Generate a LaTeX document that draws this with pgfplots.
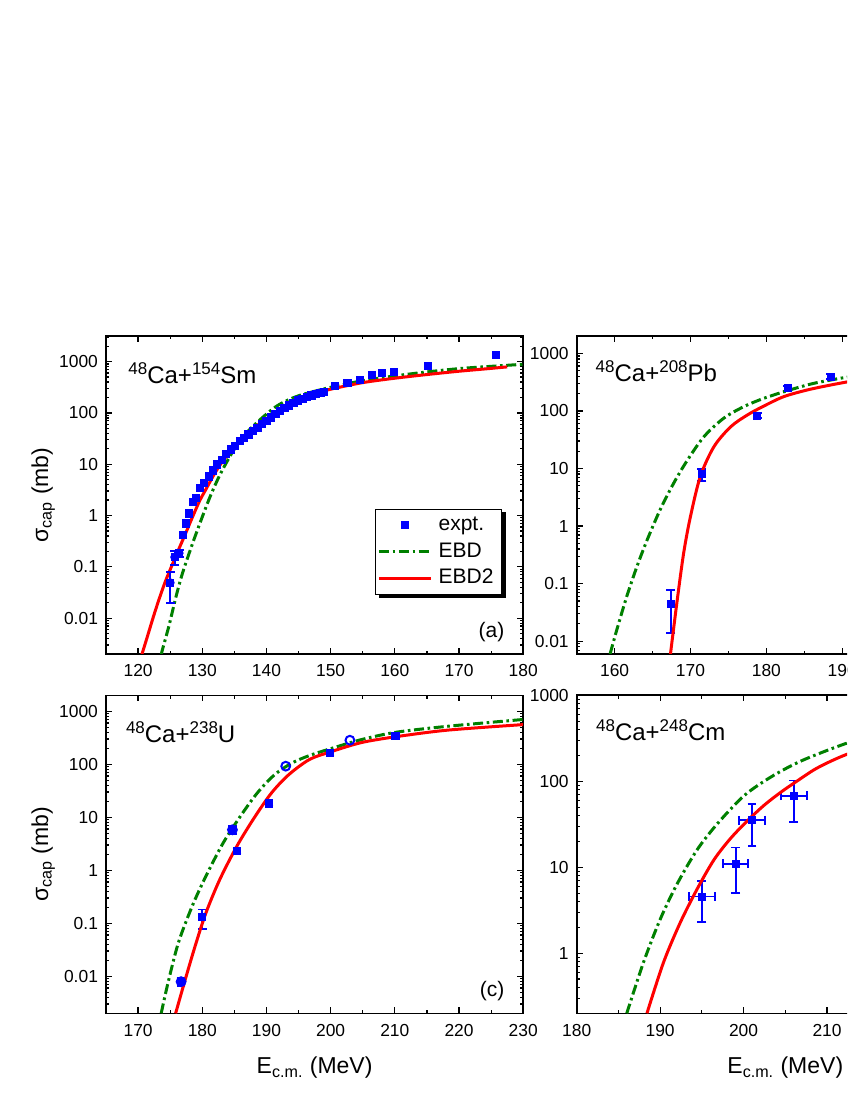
\documentclass[border=0pt]{standalone}
\usepackage{fontspec}
\setmainfont{Liberation Sans}
\usepackage{pgfplots}
\pgfplotsset{compat=1.18}
\definecolor{ogreen}{RGB}{0,128,0}
\newcommand\sups[1]{\raisebox{4.6pt}{\fontsize{8.5}{8.5}\selectfont #1}}

\pgfplotsset{
  every axis/.append style={
    scale only axis, width=208.6pt, height=159pt, anchor=south west,
    log ticks with fixed point,
    /pgf/number format/1000 sep={},
    /pgf/number format/assume math mode=true,
    ticklabel style={font=\fontsize{8.7}{10}\selectfont},
    xticklabel style={yshift=-1.8pt},
    yticklabel style={xshift=-0.5pt},
    axis line style={line width=0.8pt},
    tick style={black, line width=0.6pt},
    major tick length=3pt, minor tick length=1.7pt,
    minor x tick num=1,
    minor ytick={0.002,0.003,0.004,0.005,0.006,0.007,0.008,0.009,
                 0.02,0.03,0.04,0.05,0.06,0.07,0.08,0.09,
                 0.2,0.3,0.4,0.5,0.6,0.7,0.8,0.9,
                 2,3,4,5,6,7,8,9,20,30,40,50,60,70,80,90,
                 200,300,400,500,600,700,800,900,2000,3000},
    xlabel style={font=\fontsize{11.5}{13}\selectfont, at={(axis description cs:0.5,-0.189)}, anchor=base},
    ylabel style={font=\fontsize{11.5}{13}\selectfont, at={(axis description cs:-0.139,0.5)}, anchor=base},
  },
  expt/.style={blue, only marks, mark=square*, mark size=1.8pt},
  opn/.style={blue, only marks, mark=o, mark size=2.2pt, mark options={line width=1pt}},
  ebd/.style={ogreen, line width=1.5pt, smooth, dash pattern=on 5pt off 1.8pt on 1.3pt off 1.8pt, mark=none},
  ebd2/.style={red, line width=1.5pt, smooth, mark=none},
  error bars/eb/.style={error mark=-, error bar style={line width=0.9pt},
    error mark options={rotate=90, blue, mark size=2.2pt, line width=0.9pt}},
}
\tikzset{
  ttl/.style={anchor=base west, inner sep=0pt, font=\fontsize{12}{14}\selectfont},
  lett/.style={anchor=east, inner sep=0pt, font=\fontsize{10.5}{12}\selectfont},
}

\begin{document}
\begin{tikzpicture}
\path[use as bounding box] (0,0) rectangle (423.5pt,548pt);
\clip (0,0) rectangle (423.5pt,548pt);

% (a) 48Ca+154Sm
\begin{semilogyaxis}[at={(53pt,221pt)},
  xmin=115, xmax=180, xtick={120,130,...,180},
  ymin=0.002, ymax=3162, ytick={0.01,0.1,1,10,100,1000},
  ylabel={σ\textsubscript{cap} (mb)},
  legend cell align=left,
  legend image code/.code={\draw[mark repeat=2,mark phase=2,#1] plot coordinates {(0pt,0pt) (13pt,0pt) (26pt,0pt)};},
  legend style={at={(axis description cs:0.645,0.457)}, anchor=north west,
    draw=black, line width=0.5pt, fill=white, font=\fontsize{10.5}{12}\selectfont,
    inner xsep=1pt, inner ysep=1.3pt, row sep=0pt, name=leg,
    nodes={inner xsep=3pt, inner ysep=1.6pt, text height=7.8pt, text depth=2.3pt}},
]
\addplot[expt] coordinates {
 (125.0,0.049) (125.7,0.155) (126.4,0.185) (127.0,0.42) (127.5,0.70)
 (127.9,1.1) (128.6,1.85) (129.0,2.2) (129.6,3.4) (130.3,4.4)
 (131.0,5.8) (131.6,7.6) (132.3,9.9) (133.0,12.2) (133.7,16)
 (134.4,19.4) (135.1,23) (135.8,28) (136.5,33) (137.2,38)
 (137.9,45) (138.6,52) (139.3,61) (140.0,71) (140.7,82)
 (141.4,95) (142.1,108) (142.8,124) (143.5,140) (144.2,158)
 (144.9,176) (145.6,191) (146.3,205) (147.0,219) (147.7,232)
 (148.4,243) (149.0,253) (150.7,337) (152.6,392) (154.5,441)
 (156.4,552) (158.0,595) (159.9,640) (165.1,825) (175.8,1345)
};
\addlegendentry{expt.}
\addplot[ebd] coordinates {
 (123.6,0.0019) (123.8,0.00245) (124.8,0.007) (125.9,0.026) (126.9,0.074)
 (128.3,0.245) (129.6,0.69) (131.2,2.3) (132.8,6.4) (134.8,18)
 (136.9,41) (139.6,86) (141.95,145) (145,216) (150,316) (155,425)
 (160,527) (165,630) (170,731) (175,810) (180,888)
};
\addlegendentry{EBD}
\addplot[ebd2] coordinates {
 (120.5,0.0018) (121.5,0.0046) (122.4,0.0108) (123.3,0.024)
 (124.3,0.054) (125.4,0.116) (126.4,0.23) (127.5,0.48) (128.5,0.95)
 (129.6,1.95) (130.6,3.3) (131.7,5.9) (132.7,9.4) (133.8,14.5)
 (135.0,21) (136.4,33) (137.7,46) (139.05,64) (140.5,85)
 (141.95,116) (143.5,150) (145,180) (147.5,238) (150,290)
 (155,390) (160,475) (165,560) (170,650) (174,720) (177.5,790)
};
\addlegendentry{EBD2}
\addplot[blue, only marks, mark=none, forget plot, error bars/.cd, y dir=both, y explicit, eb]
  coordinates {(125.0,0.049) += (0,0.03) -= (0,0.029)
               (125.7,0.155) +- (0,0.045) (126.4,0.185) +- (0,0.03)};
\node[ttl] at ([shift={(11pt,-24pt)}]rel axis cs:0,1) {\sups{48}Ca+\sups{154}Sm};
\node[lett] at ([shift={(-9.2pt,11pt)}]rel axis cs:1,0) {(a)};
\end{semilogyaxis}
% legend shadow
\fill[black] ([shift={(0pt,-1.8pt)}]leg.north east) rectangle ([shift={(1.8pt,-1.8pt)}]leg.south east);
\fill[black] ([shift={(1.8pt,0pt)}]leg.south west) rectangle ([shift={(1.8pt,-1.8pt)}]leg.south east);

% (b) 48Ca+208Pb
\begin{semilogyaxis}[at={(288.35pt,221pt)},
  xmin=155, xmax=210, xtick={160,170,...,210},
  ymin=0.006, ymax=2000, ytick={0.01,0.1,1,10,100,1000},
]
\addplot[expt, error bars/.cd, y dir=both, y explicit, eb]
  coordinates {(167.4,0.045) += (0,0.032) -= (0,0.031)
               (171.5,8.1) += (0,1.8) -= (0,2.0)
               (178.8,83) +- (0,8) (182.8,247) +- (0,25) (188.5,394) +- (0,40)};
\addplot[ebd] coordinates {
 (159.4,0.006) (160.3,0.016) (161.6,0.06) (162.95,0.2) (164.3,0.58)
 (166.0,1.92) (167.8,5.6) (169.6,14) (171.8,36) (174.4,75)
 (177.05,119) (179.7,166) (182.8,225) (186.3,302) (191,394)
};
\addplot[ebd2] coordinates {
 (167.36,0.006) (168.2,0.046) (169.1,0.34) (170.0,1.47) (171.3,7.3)
 (173.1,24) (175.3,53) (177.5,85) (179.7,122) (182.3,177)
 (185.4,231) (188.5,282) (191,325)
};
\node[ttl] at ([shift={(9.3pt,-22.7pt)}]rel axis cs:0,1) {\sups{48}Ca+\sups{208}Pb};
\end{semilogyaxis}

% (c) 48Ca+238U
\begin{semilogyaxis}[at={(53pt,41.35pt)},
  xmin=165, xmax=230, xtick={170,180,...,230},
  ymin=0.002, ymax=2000, ytick={0.01,0.1,1,10,100,1000},
  xlabel={E\textsubscript{c.m.} (MeV)},
  ylabel={σ\textsubscript{cap} (mb)},
]
\addplot[expt, error bars/.cd, y dir=both, y explicit, eb]
  coordinates {(180.0,0.131) += (0,0.05) -= (0,0.054)
               (185.4,2.33) +- (0,0.2) (190.4,18.2) +- (0,1.5)
               (199.9,164) +- (0,18) (210.1,338) +- (0,30)};
\addplot[opn] coordinates {(176.7,0.0079) (184.7,5.8) (193.0,92) (203.0,284)};
\addplot[blue, only marks, mark=none, forget plot, error bars/.cd, y dir=both, y explicit, eb]
  coordinates {(176.7,0.0079) +- (0,0.0013) (184.7,5.8) +- (0,1)};
\addplot[ebd] coordinates {
 (173.6,0.002) (174.67,0.0076) (176.28,0.043) (178.43,0.21) (180.58,0.78)
 (183.27,3.3) (185.95,10.5) (188.6,29) (191.3,64) (194.0,106)
 (196.7,146) (199.9,195) (204.7,290) (210.1,400) (218.2,520) (230,700)
};
\addplot[ebd2] coordinates {
 (175.85,0.002) (177.36,0.0088) (178.97,0.04) (180.58,0.158) (182.73,0.67)
 (185.4,2.86) (188.1,9.8) (190.8,28.9) (193.5,64) (196.7,123)
 (199.9,170) (204.7,255) (210.1,330) (218.2,440) (230,560)
};
\node[ttl] at ([shift={(9.8pt,-23.5pt)}]rel axis cs:0,1) {\sups{48}Ca+\sups{238}U};
\node[lett] at ([shift={(-9.2pt,11pt)}]rel axis cs:1,0) {(c)};
\end{semilogyaxis}

% (d) 48Ca+248Cm
\begin{semilogyaxis}[at={(288.35pt,41.35pt)},
  xmin=180, xmax=230, xtick={180,190,...,230},
  ymin=0.2, ymax=1000, ytick={1,10,100,1000},
  xlabel={E\textsubscript{c.m.} (MeV)},
]
\addplot[expt, error bars/.cd, x dir=both, x explicit, y dir=both, y explicit, eb]
  coordinates {(195.0,4.56) += (1.56,2.29) -= (1.56,2.26)
               (199.05,11.0) += (1.5,6) -= (1.5,6)
               (201.0,35.3) += (1.56,18.7) -= (1.56,17.6)
               (206.0,68) += (1.56,34) -= (1.56,34.5)};
\addplot[ebd] coordinates {
 (186.0,0.2) (188.0,0.78) (190.0,2.47) (192.0,6.3) (194.4,15.8)
 (196.85,32) (200.06,68) (203.27,112) (206.47,165) (209.68,222)
 (212.5,280) (215,330)
};
\addplot[ebd2] coordinates {
 (188.42,0.2) (190.4,0.78) (192.4,2.26) (194.4,5.5) (196.45,12.2)
 (198.45,21.7) (200.5,35) (202.5,53) (204.5,75) (206.5,102)
 (208.5,137) (210.5,172) (212.5,208) (215,250)
};
\node[ttl] at ([shift={(9.5pt,-22.5pt)}]rel axis cs:0,1) {\sups{48}Ca+\sups{248}Cm};
\end{semilogyaxis}
\end{tikzpicture}
\end{document}
